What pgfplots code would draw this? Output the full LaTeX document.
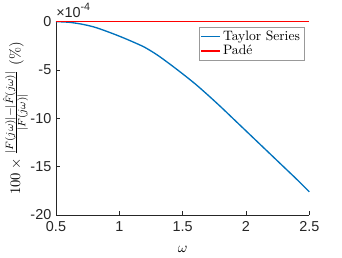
\documentclass[border=0pt]{standalone}
\usepackage{fontspec}
\usepackage{pgfplots}
\pgfplotsset{compat=1.18}
\newfontfamily\ticksfont{Liberation Sans}
\definecolor{mblue}{rgb}{0,0.447,0.741}
\definecolor{mred}{rgb}{1,0,0}
\definecolor{axgray}{rgb}{0.15,0.15,0.15}
\begin{document}
\begin{tikzpicture}
\begin{axis}[
  scale only axis,
  width=190pt, height=145pt,
  xmin=0.5, xmax=2.5, ymin=-20, ymax=0,
  axis lines*=left,
  axis line style={axgray, line width=0.5pt},
  tick style={axgray, line width=0.5pt},
  tick align=inside,
  major tick length=3pt,
  xtick={0.5,1,1.5,2,2.5},
  xticklabels={0.5,1,1.5,2,2.5},
  ytick={-20,-15,-10,-5,0},
  yticklabels={-20,-15,-10,-5,0},
  tick label style={font=\fontsize{10.8}{12}\ticksfont, text=axgray},
  xticklabel style={yshift=-1.5pt},
  xlabel={$\omega$},
  ylabel={$100\times\frac{|F(j\omega)|-|\hat{F}(j\omega)|}{|F(j\omega)|}\ (\%)$},
  label style={font=\fontsize{11}{13}\selectfont},
  xlabel style={yshift=-4pt},
  ylabel style={yshift=-5pt},
  clip=false,
  legend style={at={(0.98,0.974)}, anchor=north east, draw=gray!80, line width=0.5pt,
    font=\fontsize{10.2}{12}\selectfont, inner sep=1pt, row sep=-2pt},
  legend cell align=left,
  legend image code/.code={\draw[#1] (0pt,0pt) -- (14pt,0pt);},
]
\addplot[color=mblue, line width=1pt, smooth] coordinates {(0.5,0) (0.6,-0.06) (0.7,-0.25) (0.8,-0.55) (0.9,-1.0) (1.0,-1.5) (1.1,-2.05) (1.2,-2.65) (1.3,-3.45) (1.4,-4.4) (1.5,-5.4) (1.6,-6.45) (1.7,-7.6) (1.8,-8.8) (1.9,-10.05) (2.0,-11.3) (2.1,-12.55) (2.2,-13.8) (2.3,-15.05) (2.4,-16.3) (2.5,-17.6)};
\addplot[draw=none] coordinates {(0.5,0)};
\addplot[color=mred, line width=1pt] coordinates {(0.5,0) (2.5,0)};
\legend{Taylor Series,,Pad\'e}
\node[anchor=south west, inner sep=0pt, font=\fontsize{10.8}{12}\ticksfont, text=axgray] at (rel axis cs:0,1) [yshift=3pt] {×10\raisebox{0.9ex}{\fontsize{8}{9}\ticksfont -4}};
\end{axis}
\pgfresetboundingbox
\path (-42pt,-31.5pt) rectangle (214.5pt,161.25pt);
\end{tikzpicture}
\end{document}
